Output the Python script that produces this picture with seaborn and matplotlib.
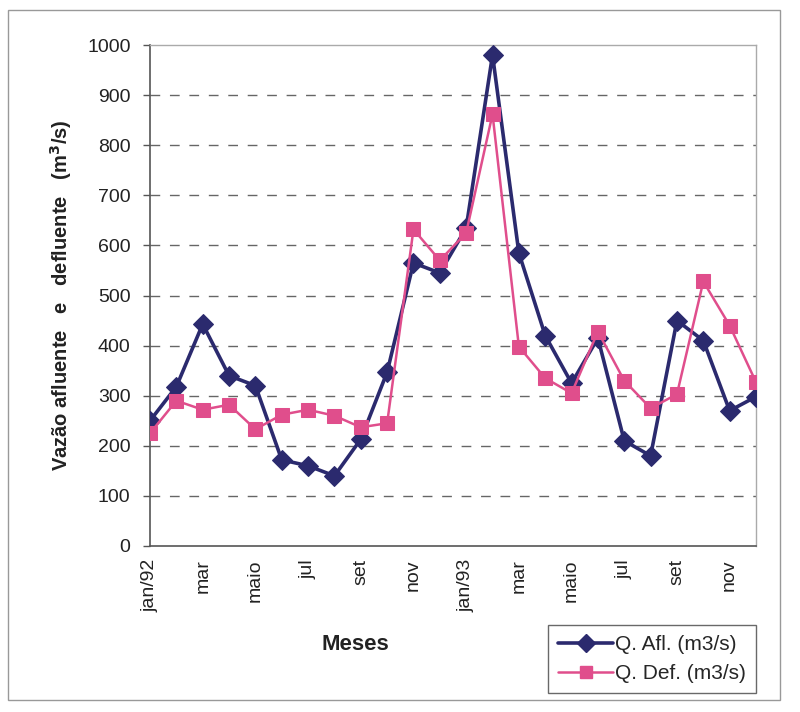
import matplotlib
matplotlib.use("Agg")
import matplotlib.pyplot as plt
from matplotlib.patches import Rectangle
from matplotlib.lines import Line2D
import seaborn as sns
import pandas as pd
import numpy as np

months = ["jan/92", "fev", "mar", "abr", "maio", "jun", "jul", "ago", "set", "out", "nov", "dez",
          "jan/93", "fev", "mar", "abr", "maio", "jun", "jul", "ago", "set", "out", "nov", "dez"]
q_afl = [250, 318, 443, 340, 320, 172, 160, 140, 213, 347, 565, 545,
         635, 980, 585, 420, 325, 415, 210, 180, 450, 410, 270, 298]
q_def = [225, 290, 272, 282, 233, 262, 272, 260, 237, 245, 632, 570,
         625, 862, 398, 335, 305, 428, 330, 275, 303, 528, 440, 327]
yticks = list(range(0, 1001, 100))

sns.set_theme(style="white")
plt.rcParams['font.family'] = ['Liberation Sans', 'DejaVu Sans']

navy = "#2B2A6E"
pink = "#E04E8C"

df = pd.DataFrame({"idx": np.arange(len(months)), "afl": q_afl, "def": q_def})

fig = plt.figure(figsize=(8.0, 7.12), dpi=100)
ax = fig.add_axes([150/800, 1-546/712, (756-150)/800, (546-45)/712])

sns.lineplot(data=df, x="idx", y="afl", ax=ax, color=navy, lw=2.6, marker="D",
             markersize=10, markeredgecolor=navy, markerfacecolor=navy, zorder=3)
sns.lineplot(data=df, x="idx", y="def", ax=ax, color=pink, lw=1.8, marker="s",
             markersize=10, markeredgecolor=pink, markerfacecolor=pink, zorder=4)

ax.set_xlim(0, len(months) - 1)
ax.set_ylim(0, 1000)
ax.set_yticks(yticks)
ax.set_yticklabels([str(v) for v in yticks], fontsize=14, color="#222222")
ax.set_xticks(np.arange(len(months)))
ax.set_xticklabels([m if i % 2 == 0 else "" for i, m in enumerate(months)],
                   rotation=90, fontsize=14, color="#222222")
ax.tick_params(axis="x", direction="inout", length=9, width=1, color="#555555", pad=5)
ax.tick_params(axis="y", direction="out", length=5, width=1, color="#555555", pad=9, left=True)
ax.set_xlabel("")
ax.set_ylabel("Vazão afluente   e   defluente   (m$\\mathbf{^3}$/s)", fontsize=14.5,
              fontweight="bold", color="#222222")
ax.yaxis.set_label_coords(-(150-74)/606, 0.5)

for y in yticks[1:-1]:
    ax.axhline(y, color="#666666", lw=1.0, ls=(0, (7, 7)), zorder=1)

for side in ["top", "right"]:
    ax.spines[side].set_color("#aaaaaa")
    ax.spines[side].set_linestyle((0, (1, 1)))
    ax.spines[side].set_linewidth(1.0)
for side in ["left", "bottom"]:
    ax.spines[side].set_color("#555555")
    ax.spines[side].set_linewidth(1.2)

fig.text(355/800, 1-645/712, "Meses", ha="center", va="center", fontsize=16,
         fontweight="bold", color="#222222")

handles = [Line2D([0], [0], color=navy, lw=2.6, marker="D", markersize=9),
           Line2D([0], [0], color=pink, lw=1.8, marker="s", markersize=9)]
leg = fig.legend(handles, ["Q. Afl. (m3/s)", "Q. Def. (m3/s)"],
                 loc="upper left", bbox_to_anchor=(548/800, 1-625/712),
                 fontsize=15, frameon=True, fancybox=False, handlelength=2.6,
                 handletextpad=0.1, labelspacing=0.45, borderpad=0.5, borderaxespad=0,
                 edgecolor="#444444")
leg.get_frame().set_linewidth(1.0)

fig.patches.append(Rectangle((8/800, 1-700/712), (780-8)/800, (700-10)/712,
                             transform=fig.transFigure, fill=False, edgecolor="#999999", lw=1.0))

fig.savefig("out.png", dpi=100, facecolor="white")
